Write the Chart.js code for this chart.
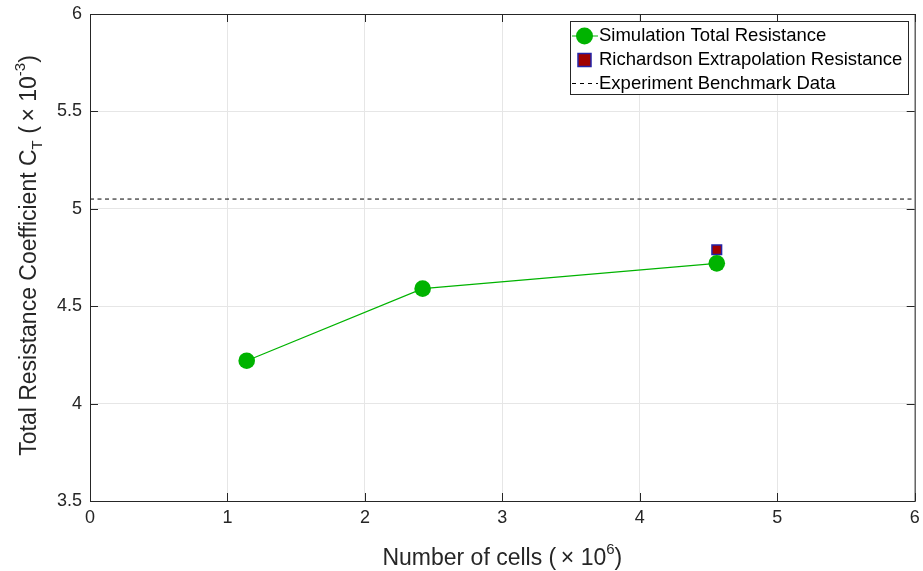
<!DOCTYPE html>
<html>
<head>
<meta charset="utf-8">
<script src="https://cdn.jsdelivr.net/npm/chart.js@4"></script>
<style>
  html, body { margin: 0; padding: 0; background: #fff; }
  #wrap { width: 923px; height: 571px; }
</style>
</head>
<body>
<div id="wrap"><canvas id="grafico" width="923" height="571"></canvas></div>
<script>
// dados
const celulas = [1.14, 2.42, 4.56];          // número de células (x 10^6)
const ctSimulacao = [4.22, 4.59, 4.72];      // C_T (x 10^-3)
const celulasRichardson = [4.56];
const ctRichardson = [4.79];
const ctExperimento = 5.05;
const xTicks = [0, 1, 2, 3, 4, 5, 6];
const yTicks = [3.5, 4, 4.5, 5, 5.5, 6];
const legendas = ["Simulation Total Resistance", "Richardson Extrapolation Resistance", "Experiment Benchmark Data"];

const fonte = "'Liberation Sans', Arial, sans-serif";
const verde = "#00b300";
const cinza = "#262626";

// moldura, marcas internas, títulos dos eixos e legenda
const extras = {
  id: "extras",
  afterDraw(chart) {
    const { ctx, chartArea: a } = chart;
    const sx = chart.scales.x, sy = chart.scales.y;
    ctx.save();
    ctx.strokeStyle = cinza;
    ctx.lineWidth = 1;
    ctx.strokeRect(a.left + 0.5, a.top + 0.5, a.right - a.left, a.bottom - a.top);

    // marcas para dentro, nos quatro lados
    const tl = 8;
    ctx.beginPath();
    xTicks.forEach(v => {
      const px = Math.round(sx.getPixelForValue(v)) + 0.5;
      ctx.moveTo(px, a.bottom); ctx.lineTo(px, a.bottom - tl);
      ctx.moveTo(px, a.top); ctx.lineTo(px, a.top + tl);
    });
    yTicks.forEach(v => {
      const py = Math.round(sy.getPixelForValue(v)) + 0.5;
      ctx.moveTo(a.left, py); ctx.lineTo(a.left + tl, py);
      ctx.moveTo(a.right, py); ctx.lineTo(a.right - tl, py);
    });
    ctx.stroke();

    ctx.fillStyle = cinza;
    ctx.textBaseline = "alphabetic";
    ctx.textAlign = "left";
    const grande = "23px " + fonte, pequeno = "15px " + fonte;

    function escreve(partes, x, y) {
      let px = x;
      partes.forEach(([t, f, dy]) => {
        ctx.font = f;
        ctx.fillText(t, px, y + dy);
        px += ctx.measureText(t).width;
      });
    }
    function largura(partes) {
      let tot = 0;
      partes.forEach(([t, f]) => { ctx.font = f; tot += ctx.measureText(t).width; });
      return tot;
    }

    // título x
    const tituloX = [
      ["Number of cells (\u2009\u00d7 10", grande, 0],
      ["6", pequeno, -11],
      [")", grande, 0]
    ];
    escreve(tituloX, (a.left + a.right) / 2 - largura(tituloX) / 2, 565);

    // título y
    ctx.save();
    ctx.translate(36, (a.top + a.bottom) / 2 - 2);
    ctx.rotate(-Math.PI / 2);
    const tituloY = [
      ["Total Resistance Coefficient C", grande, 0],
      ["T", pequeno, 6],
      [" (\u2009\u00d7 10", grande, 0],
      ["-3", pequeno, -11],
      [")", grande, 0]
    ];
    escreve(tituloY, -largura(tituloY) / 2, 0);
    ctx.restore();

    // legenda
    const lx = 570, ly = 21, lw = 338, lh = 73;
    ctx.fillStyle = "#fff";
    ctx.fillRect(lx, ly, lw, lh);
    ctx.strokeStyle = cinza;
    ctx.lineWidth = 1;
    ctx.strokeRect(lx + 0.5, ly + 0.5, lw, lh);
    ctx.font = "18.5px " + fonte;
    ctx.textBaseline = "middle";
    const linhas = [36, 59.5, 83.5];
    // simulação
    ctx.strokeStyle = verde;
    ctx.beginPath(); ctx.moveTo(572, linhas[0]); ctx.lineTo(598, linhas[0]); ctx.stroke();
    ctx.fillStyle = verde;
    ctx.beginPath(); ctx.arc(584.5, linhas[0], 8.5, 0, Math.PI * 2); ctx.fill();
    // richardson
    ctx.fillStyle = "#a00000";
    ctx.fillRect(578, linhas[1] - 6, 13, 13);
    ctx.strokeStyle = "#2323a8";
    ctx.lineWidth = 1.5;
    ctx.strokeRect(578, linhas[1] - 6, 13, 13);
    // experimento
    ctx.strokeStyle = "#000";
    ctx.lineWidth = 1;
    ctx.setLineDash([4, 4]);
    ctx.beginPath(); ctx.moveTo(572, linhas[2]); ctx.lineTo(598, linhas[2]); ctx.stroke();
    ctx.setLineDash([]);
    ctx.fillStyle = "#000";
    legendas.forEach((t, i) => ctx.fillText(t, 599, linhas[i]));
    ctx.restore();
  }
};

const ctx = document.getElementById("grafico").getContext("2d");
new Chart(ctx, {
  type: "scatter",
  data: {
    datasets: [
      {
        label: legendas[2],
        data: [xTicks[0], xTicks[xTicks.length - 1]].map(x => ({ x: x, y: ctExperimento })),
        showLine: true,
        borderColor: "#000",
        borderWidth: 1,
        borderDash: [4, 3.5],
        pointRadius: 0
      },
      {
        label: legendas[0],
        data: celulas.map((c, i) => ({ x: c, y: ctSimulacao[i] })),
        showLine: true,
        borderColor: verde,
        backgroundColor: verde,
        borderWidth: 1.2,
        pointRadius: 8.3,
        pointBorderWidth: 0,
        pointBackgroundColor: verde
      },
      {
        label: legendas[1],
        data: celulasRichardson.map((c, i) => ({ x: c, y: ctRichardson[i] })),
        pointStyle: "rect",
        pointRadius: 6.8,
        pointBackgroundColor: "#a00000",
        pointBorderColor: "#2323a8",
        pointBorderWidth: 1.5
      }
    ]
  },
  options: {
    responsive: false,
    animation: false,
    layout: { padding: { top: 14, right: 8, left: 0, bottom: 0 } },
    plugins: { legend: { display: false }, tooltip: { enabled: false } },
    scales: {
      x: {
        type: "linear",
        min: xTicks[0], max: xTicks[xTicks.length - 1],
        afterFit(s) { s.height = 70; s.paddingLeft = 0; s.paddingRight = 0; },
        afterBuildTicks(s) { s.ticks = xTicks.map(v => ({ value: v })); },
        ticks: { color: cinza, font: { size: 18, family: fonte }, padding: 6, callback: v => String(v) },
        grid: { color: "#e6e6e6", drawTicks: false },
        border: { display: false }
      },
      y: {
        min: yTicks[0], max: yTicks[yTicks.length - 1],
        afterFit(s) { s.width = 90; s.paddingTop = 0; s.paddingBottom = 0; },
        afterBuildTicks(s) { s.ticks = yTicks.map(v => ({ value: v })); },
        ticks: { color: cinza, font: { size: 18, family: fonte }, padding: 8, callback: v => String(v) },
        grid: { color: "#e6e6e6", drawTicks: false },
        border: { display: false }
      }
    }
  },
  plugins: [extras]
});
</script>
</body>
</html>
